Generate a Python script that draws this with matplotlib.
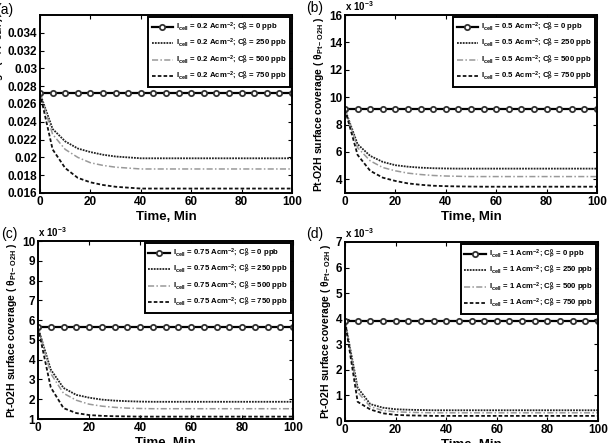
import numpy as np
import matplotlib
matplotlib.use("Agg")
import matplotlib.pyplot as plt

plt.rcParams['font.family'] = ['Liberation Sans', 'DejaVu Sans']
plt.rcParams['font.weight'] = 'bold'
plt.rcParams['mathtext.fontset'] = 'custom'
plt.rcParams['mathtext.rm'] = 'Liberation Sans:bold'
plt.rcParams['mathtext.bf'] = 'Liberation Sans:bold'
plt.rcParams['mathtext.it'] = 'Liberation Sans:bold'
plt.rcParams['mathtext.default'] = 'bf'

time_min = [0, 5, 10, 15, 20, 25, 30, 35, 40, 45, 50, 55, 60, 65, 70, 75, 80, 85, 90, 95, 100]

# Panel (a) I = 0.2 A/cm2
a_0 = [0.0272] * 21
a_250 = [0.0272, 0.0232, 0.0218, 0.0210, 0.0206, 0.0203, 0.0201, 0.0200, 0.0199, 0.0199, 0.0199,
         0.0199, 0.0199, 0.0199, 0.0199, 0.0199, 0.0199, 0.0199, 0.0199, 0.0199, 0.0199]
a_500 = [0.0272, 0.0226, 0.0209, 0.0200, 0.0194, 0.0191, 0.0189, 0.0188, 0.0187, 0.0187, 0.0187,
         0.0187, 0.0187, 0.0187, 0.0187, 0.0187, 0.0187, 0.0187, 0.0187, 0.0187, 0.0187]
a_750 = [0.0272, 0.0209, 0.0188, 0.0177, 0.0172, 0.0169, 0.0167, 0.0166, 0.0165, 0.0165, 0.0165,
         0.0165, 0.0165, 0.0165, 0.0165, 0.0165, 0.0165, 0.0165, 0.0165, 0.0165, 0.0165]

# Panel (b) I = 0.5 A/cm2 (x 1e-3)
b_0 = [9.1] * 21
b_250 = [9.1, 6.56, 5.71, 5.27, 5.03, 4.92, 4.85, 4.81, 4.79, 4.78, 4.78,
         4.78, 4.78, 4.78, 4.78, 4.78, 4.78, 4.78, 4.78, 4.78, 4.78]
b_500 = [9.1, 6.31, 5.35, 4.86, 4.62, 4.45, 4.35, 4.28, 4.24, 4.22, 4.20,
         4.20, 4.20, 4.20, 4.20, 4.20, 4.20, 4.20, 4.20, 4.20, 4.20]
b_750 = [9.1, 5.78, 4.62, 4.12, 3.88, 3.70, 3.60, 3.53, 3.50, 3.48, 3.47,
         3.46, 3.46, 3.46, 3.46, 3.46, 3.46, 3.46, 3.46, 3.46, 3.46]

# Panel (c) I = 0.75 A/cm2 (x 1e-3)
c_0 = [5.63] * 21
c_250 = [5.63, 3.50, 2.57, 2.22, 2.08, 1.98, 1.93, 1.90, 1.88, 1.87, 1.87,
         1.87, 1.87, 1.87, 1.87, 1.87, 1.87, 1.87, 1.87, 1.87, 1.87]
c_500 = [5.63, 3.30, 2.30, 1.95, 1.75, 1.65, 1.59, 1.55, 1.53, 1.52, 1.52,
         1.52, 1.52, 1.52, 1.52, 1.52, 1.52, 1.52, 1.52, 1.52, 1.52]
c_750 = [5.63, 2.60, 1.55, 1.30, 1.20, 1.16, 1.14, 1.13, 1.12, 1.12, 1.12,
         1.12, 1.12, 1.12, 1.12, 1.12, 1.12, 1.12, 1.12, 1.12, 1.12]

# Panel (d) I = 1 A/cm2 (x 1e-3)
d_0 = [3.9] * 21
d_250 = [3.9, 1.30, 0.66, 0.52, 0.46, 0.44, 0.43, 0.42, 0.42, 0.42, 0.42,
         0.42, 0.42, 0.42, 0.42, 0.42, 0.42, 0.42, 0.42, 0.42, 0.42]
d_500 = [3.9, 1.13, 0.56, 0.41, 0.36, 0.34, 0.33, 0.32, 0.32, 0.32, 0.32,
         0.32, 0.32, 0.32, 0.32, 0.32, 0.32, 0.32, 0.32, 0.32, 0.32]
d_750 = [3.9, 0.75, 0.45, 0.30, 0.24, 0.22, 0.21, 0.20, 0.20, 0.20, 0.20,
         0.20, 0.20, 0.20, 0.20, 0.20, 0.20, 0.20, 0.20, 0.20, 0.20]

currents = ['0.2', '0.5', '0.75', '1']
concs = ['0', '250', '500', '750']
panel_tags = ['(a)', '(b)', '(c)', '(d)']
panel_series = [[a_0, a_250, a_500, a_750], [b_0, b_250, b_500, b_750],
                [c_0, c_250, c_500, c_750], [d_0, d_250, d_500, d_750]]
ylims = [(0.016, 0.036), (3, 16), (1, 10), (0, 7)]
yticks = [[0.016, 0.018, 0.02, 0.022, 0.024, 0.026, 0.028, 0.03, 0.032, 0.034],
          [4, 6, 8, 10, 12, 14, 16],
          [1, 2, 3, 4, 5, 6, 7, 8, 9, 10],
          [0, 1, 2, 3, 4, 5, 6, 7]]
ytick_labels = [['0.016', '0.018', '0.02', '0.022', '0.024', '0.026', '0.028', '0.03', '0.032', '0.034'],
                ['4', '6', '8', '10', '12', '14', '16'],
                ['1', '2', '3', '4', '5', '6', '7', '8', '9', '10'],
                ['0', '1', '2', '3', '4', '5', '6', '7']]
xticks = [0, 20, 40, 60, 80, 100]

fig = plt.figure(figsize=(6.09, 4.43), dpi=100)
W, H = 609, 443
boxes = [(40, 15, 292, 193), (345, 15, 597, 193), (38, 241, 293, 419), (345, 242, 598, 421)]

styles = [
    dict(color='black', linestyle='-', linewidth=1.6, marker='o', markersize=3.8,
         markerfacecolor='white', markeredgecolor='#333333', markeredgewidth=1.3),
    dict(color='#222222', linestyle=(0, (1, 0.6)), linewidth=1.3),
    dict(color='#999999', linestyle=(0, (4, 1.5, 1, 1.5)), linewidth=1.1),
    dict(color='#111111', linestyle=(0, (2, 1.2)), linewidth=1.3),
]

for i in range(4):
    l, t, r, b = boxes[i]
    ax = fig.add_axes([l / W, 1 - b / H, (r - l) / W, (b - t) / H])
    for j in range(4):
        lab = (r'I$_{cell}$ = ' + currents[i] + r' Acm$^{-2}$; C$_{P}^{0}$ = ' + concs[j] + ' ppb')
        ax.plot(time_min, panel_series[i][j], label=lab, **styles[j])
    ax.set_xlim(0, 100)
    ax.set_ylim(*ylims[i])
    ax.set_xticks(xticks)
    ax.set_xticklabels([str(v) for v in xticks], fontsize=8.5, fontweight='bold')
    ax.set_yticks(yticks[i])
    ax.set_yticklabels(ytick_labels[i], fontsize=8.5, fontweight='bold')
    ax.tick_params(direction='in', top=True, right=True, length=3, width=0.8, pad=2)
    for s in ax.spines.values():
        s.set_linewidth(1.4)
    ax.set_xlabel('Time, Min', fontsize=9.5, fontweight='bold', labelpad=2)
    ax.set_ylabel(r'Pt-O2H surface coverage ( θ$_{Pt-O2H}$ )', fontsize=7.5, fontweight='bold', labelpad=2)
    leg = ax.legend(loc='upper right', fontsize=5.6, handlelength=2.8, handletextpad=0.35,
                    labelspacing=0.42, borderpad=0.45, borderaxespad=0.25, fancybox=False,
                    framealpha=1, edgecolor='black')
    leg.get_frame().set_linewidth(1.4)
    if i > 0:
        ax.text(0.0, 1.012, r'x 10$^{-3}$', transform=ax.transAxes, fontsize=7,
                fontweight='bold', ha='left', va='bottom')

fig.text(-0.006, 1 - 10 / H, panel_tags[0], fontsize=10, fontweight='normal', va='center')
fig.text(306 / W, 1 - 8 / H, panel_tags[1], fontsize=10, fontweight='normal', va='center')
fig.text(1 / W, 1 - 234 / H, panel_tags[2], fontsize=10, fontweight='normal', va='center')
fig.text(306 / W, 1 - 234 / H, panel_tags[3], fontsize=10, fontweight='normal', va='center')

fig.savefig('out.png', dpi=100)
